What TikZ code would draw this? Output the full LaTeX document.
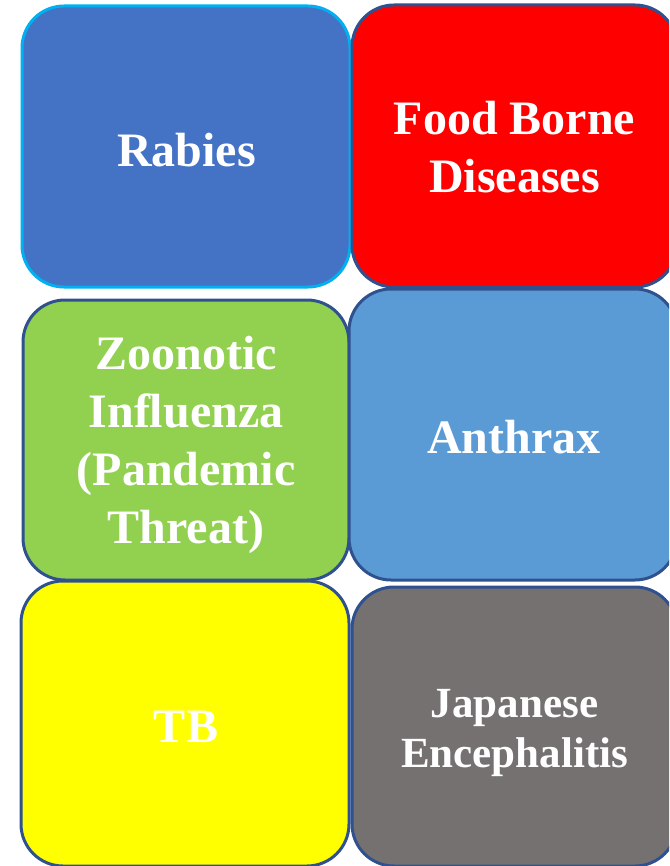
\documentclass[tikz,border=0pt]{standalone}
\usepackage{fontspec}
\setmainfont{Liberation Serif}
\definecolor{bordblue}{HTML}{2F528F}
\definecolor{cyanb}{HTML}{00B0F0}
\definecolor{rabiesfill}{HTML}{4472C4}
\definecolor{redfill}{HTML}{FF0000}
\definecolor{greenfill}{HTML}{92D050}
\definecolor{anthraxfill}{HTML}{5B9BD5}
\definecolor{yellowfill}{HTML}{FFFF00}
\definecolor{grayfill}{HTML}{767171}
\tikzset{
  tile/.style={rectangle, rounded corners=42pt, line width=3pt, draw=bordblue, inner sep=0pt},
  tiletext/.style={text=white, align=center, inner sep=0pt,
    font=\bfseries\fontsize{48}{58}\selectfont},
  smalltext/.style={font=\bfseries\fontsize{43}{50}\selectfont}
}
\begin{document}
\begin{tikzpicture}[x=1pt,y=-1pt]
\useasboundingbox (0,0) rectangle (669,866);
\clip (0,0) rectangle (669,866);
\node[tile, draw=cyanb, fill=rabiesfill, minimum width=328pt, minimum height=281pt] (rabies) at (186,146.5) {};
\node[tile, fill=redfill, minimum width=325pt, minimum height=282pt] (food) at (514.5,146) {};
\node[tile, fill=greenfill, minimum width=326pt, minimum height=280pt] (zoo) at (186,440) {};
\node[tile, fill=anthraxfill, minimum width=328pt, minimum height=291pt] (anthrax) at (513,434.5) {};
\node[tile, fill=yellowfill, minimum width=328pt, minimum height=285pt] (tb) at (185,723.5) {};
\node[tile, fill=grayfill, minimum width=325pt, minimum height=279pt] (jap) at (514.5,726.5) {};
\node[tiletext] (rabiesT) at ([xshift=0.5pt,yshift=-3.5pt]rabies.center) {Rabies};
\node[tiletext] (foodT) at ([xshift=0pt,yshift=-1.5pt]food.center) {Food Borne\\Diseases};
\node[tiletext] (zooT) at ([yshift=-5pt]zoo.center) {Zoonotic\\Influenza\\(Pandemic\\Threat)};
\node[tiletext] (anthraxT) at ([xshift=1pt,yshift=-2.5pt]anthrax.center) {Anthrax};
\node[tiletext] (tbT) at ([xshift=1pt,yshift=-3.5pt]tb.center) {TB};
\node[tiletext, smalltext] (japT) at ([yshift=-6.5pt]jap.center) {Japanese\\Encephalitis};
\end{tikzpicture}
\end{document}
